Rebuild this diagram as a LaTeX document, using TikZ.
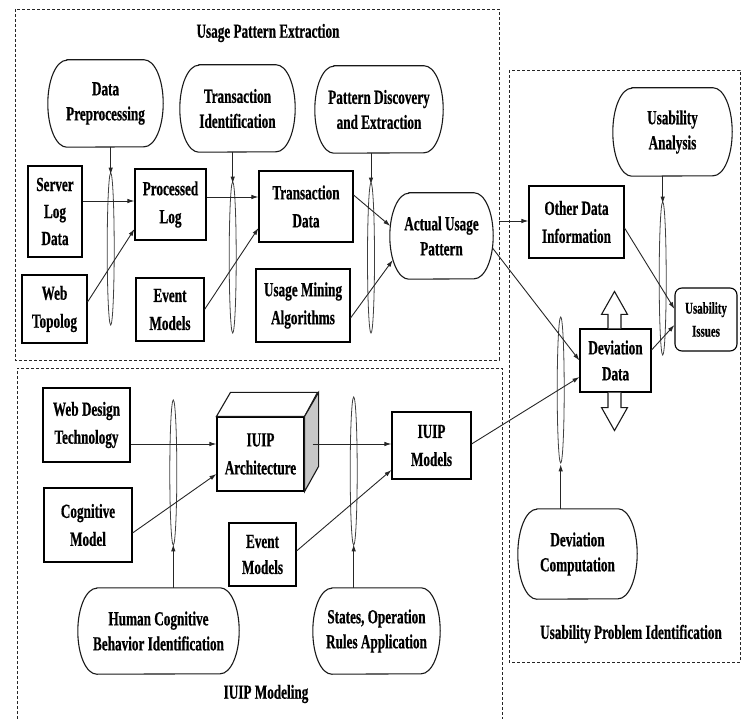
\documentclass[tikz,border=0pt]{standalone}
\usepackage{fontspec}
\setmainfont{Liberation Serif}[FakeStretch=0.66,FakeBold=0.6]
\usetikzlibrary{shapes.geometric,arrows.meta,calc}
\tikzset{
  base/.style={align=center, inner sep=0pt, text=black},
  rbox/.style={base, draw=black, line width=1.1pt, font=\fontsize{20}{28}\selectfont\bfseries},
  stxt/.style={base, font=\fontsize{20}{25}\selectfont\bfseries},
  outl/.style={draw=black!90, line width=1.1pt},
  ell/.style={ellipse, draw=black!75, line width=0.8pt, minimum width=7pt, inner sep=0pt},
  arr/.style={-{Latex[length=7pt,width=4.5pt]}, line width=0.9pt, draw=black!85},
  grp/.style={draw=black!85, line width=0.8pt, dash pattern=on 3pt off 2pt},
  ttl/.style={base, font=\fontsize{20}{25}\selectfont\bfseries},
}
\newcommand\stadium[6]{%
  \node[stxt, minimum width=#4pt, minimum height=#5pt] (#1) at (#2,#3) {#6};
  \draw[outl] ([xshift=19pt]#1.north west) -- ([xshift=-19pt]#1.north east)
    arc[start angle=90, end angle=-90, x radius=19pt, y radius=#5*0.5pt]
    -- ([xshift=19pt]#1.south west)
    arc[start angle=270, end angle=90, x radius=19pt, y radius=#5*0.5pt] -- cycle;
}
\begin{document}
\begin{tikzpicture}[x=1pt,y=-1pt]
\useasboundingbox (0,0) rectangle (742,719);
% group frames
\draw[grp] (15,9) rectangle (499,360);
\draw[grp] (17,719) -- (17,368) -- (502,368) -- (502,719);
\draw[grp] (509,70) rectangle (740,662);
\node[ttl] (t1) at (268,33) {Usage Pattern Extraction};
\node[ttl] (t2) at (266,694) {IUIP Modeling};
\node[ttl] (t3) at (631,634) {Usability Problem Identification};

% stadiums
\stadium{dp}{105.5}{103.5}{115}{87}{Data\\Preprocessing}
\stadium{ti}{237.5}{108.5}{115}{87}{Transaction\\Identification}
\stadium{pde}{379}{109.5}{128}{87}{Pattern Discovery\\and Extraction}
\stadium{aup}{441.5}{236}{103}{86}{Actual Usage\\Pattern}
\stadium{ua}{672.5}{132}{119}{88}{Usability\\Analysis}
\stadium{dc}{577.5}{554}{119}{90}{Deviation\\Computation}
\stadium{hcb}{158.5}{631}{161}{86}{Human Cognitive\\Behavior Identification}
\stadium{sor}{376.5}{631}{127}{86}{States, Operation\\Rules Application}

% boxes
\node[rbox, font=\fontsize{20}{27}\selectfont\bfseries, minimum width=54pt, minimum height=91pt] (sld) at (55,211.5) {Server\\Log\\Data};
\node[rbox, minimum width=65pt, minimum height=68pt] (wt) at (54.5,309) {Web\\Topolog};
\node[rbox, minimum width=71pt, minimum height=71pt] (pl) at (170.5,204.5) {Processed\\Log};
\node[rbox, minimum width=68pt, minimum height=63pt] (em1) at (170,309.5) {Event\\Models};
\node[rbox, minimum width=94pt, minimum height=71pt] (td) at (306,206.5) {Transaction\\Data};
\node[rbox, minimum width=94pt, minimum height=73pt] (uma) at (303,305.5) {Usage Mining\\Algorithms};
\node[rbox, minimum width=95pt, minimum height=72pt] (odi) at (576.5,222) {Other Data\\Information};
\node[rbox, font=\fontsize{16.5}{23}\selectfont\bfseries, rounded corners=7pt, minimum width=62pt, minimum height=63pt] (ui) at (706,319.5) {Usability\\Issues};
\node[rbox, font=\fontsize{20}{26}\selectfont\bfseries, minimum width=71pt, minimum height=63pt] (dd) at (615.5,360.5) {Deviation\\Data};
\node[rbox, minimum width=87pt, minimum height=74pt] (wdt) at (86.5,425) {Web Design\\Technology};
\node[rbox, minimum width=88pt, minimum height=74pt] (cm) at (88,525) {Cognitive\\Model};
\node[rbox, minimum width=87pt, minimum height=74pt] (arch) at (260.5,454) {IUIP\\Architecture};
\draw[outl, fill=white] (arch.north west) -- ++(14,-24) -- ++(87,0) -- (arch.north east) -- cycle;
\draw[outl, fill=black!22] (arch.north east) -- ++(14,-24) -- ++(0,74) -- (arch.south east) -- cycle;
\node[rbox, font=\fontsize{20}{26}\selectfont\bfseries, minimum width=67pt, minimum height=63pt] (em2) at (262.5,554.5) {Event\\Models};
\node[rbox, minimum width=79pt, minimum height=67pt] (im) at (431.5,445.5) {IUIP\\Models};

% hollow arrows at deviation data
\draw[outl, fill=white] ([xshift=-7.5pt]dd.north) -- ++(0,-14) -- ++(-6.5,0) -- ++(13,-23) -- ++(13,23) -- ++(-6.5,0) -- ++(0,14);
\draw[outl, fill=white] ([xshift=-7.5pt]dd.south) -- ++(0,15) -- ++(-6.5,0) -- ++(13,23) -- ++(13,-23) -- ++(-6.5,0) -- ++(0,-15);

% ellipses
\node[ell, minimum height=152pt] (e1) at (110.7,249) {};
\node[ell, minimum height=151pt] (e2) at (232.7,257.5) {};
\node[ell, minimum height=150pt] (e3) at (371,258) {};
\node[ell, minimum height=153pt] (e4) at (662.7,278.5) {};
\node[ell, minimum height=146pt] (e5) at (560.7,390) {};
\node[ell, minimum height=145pt] (e6) at (173.3,472.5) {};
\node[ell, minimum height=148pt] (e7) at (353.7,471) {};

% process arrows into ellipses
\draw[arr] (e1.north |- dp.south) -- ([yshift=-2pt]e1.north);
\draw[arr] (e2.north |- ti.south) -- ([yshift=-2pt]e2.north);
\draw[arr] (e3.north |- pde.south) -- ([yshift=-2pt]e3.north);
\draw[arr] (e4.north |- ua.south) -- ([yshift=-2pt]e4.north);
\draw[arr] (e5.south |- dc.north) -- ([yshift=-1pt]e5.south);
\draw[arr] (e6.south |- hcb.north) -- ([yshift=1pt]e6.south);
\draw[arr] (e7.south |- sor.north) -- ([yshift=1pt]e7.south);

% data flow arrows
\draw[arr] ([yshift=10.5pt]sld.east) -- ([yshift=3.5pt]pl.west);
\draw[arr] ([yshift=7pt]wt.east) -- ([yshift=-24.5pt]pl.west);
\draw[arr] ([yshift=7.5pt]pl.east) -- ([yshift=9.5pt]td.west);
\draw[arr] (em1.east) -- ([yshift=-21.5pt]td.west);
\draw[arr] ([yshift=11.5pt]td.east) -- ([xshift=0.5pt,yshift=10pt]aup.west);
\draw[arr] ([yshift=-12.5pt]uma.east) -- ([xshift=3pt,yshift=-24pt]aup.west);
\draw[arr] ([xshift=6pt,yshift=15pt]aup.east) -- ([yshift=1pt]odi.west);
\draw[arr] ([xshift=-0.7pt,yshift=-12pt]aup.east) -- (dd.west);
\draw[arr] ([yshift=-6pt]odi.east) -- ([yshift=10.5pt]ui.west);
\draw[arr] ([yshift=10.5pt]dd.east) -- ([yshift=-5.5pt]ui.west);
\draw[arr] ([yshift=1.5pt]im.east) -- ([yshift=-16.5pt]dd.west);
\draw[arr] ([yshift=-19pt]wdt.east) -- ([yshift=10pt]arch.west);
\draw[arr] ([yshift=-8pt]cm.east) -- ([yshift=-20pt]arch.west);
\draw[arr] ([xshift=8pt,yshift=10pt]arch.east) -- ([yshift=1.5pt]im.west);
\draw[arr] ([yshift=3.5pt]em2.east) -- ([yshift=-24.5pt]im.west);
\end{tikzpicture}
\end{document}
